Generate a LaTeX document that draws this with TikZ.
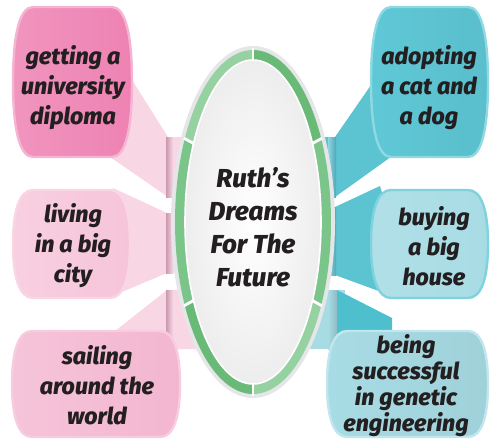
\documentclass[tikz,border=0pt]{standalone}
\usepackage{fontspec}
\setmainfont{Fira Sans}[BoldItalicFont={Fira Sans ExtraBold Italic}]
\usepackage{tikz}
\usepackage{xcolor}

\definecolor{ink}{HTML}{231F20}
\definecolor{rimgray}{HTML}{E4E6E8}
\definecolor{greenlight}{HTML}{96D1A1}
\definecolor{greenmid}{HTML}{7CC58A}
\definecolor{greendark}{HTML}{69B977}
\definecolor{pinkhot}{HTML}{EE82B3}
\definecolor{pinksoft}{HTML}{F6C4D9}
\definecolor{pinkmid}{HTML}{F3B6D0}
\definecolor{pinkbeam}{HTML}{F9D6E4}
\definecolor{pinkstrip}{HTML}{C99AAE}
\definecolor{cyandeep}{HTML}{5FC8D6}
\definecolor{cyansoft}{HTML}{A8DCE5}
\definecolor{cyanbeam}{HTML}{5CC4D1}
\definecolor{cyanstrip}{HTML}{4FA8B7}
\definecolor{cyandark}{HTML}{4EBFCD}

% rounded bubble: x0, y0, x1, y1, options
\newcommand\bubble[5]{%
  \path[#5] (#1+20,#2) -- (#3-20,#2)
    .. controls (#3-6,#2) and (#3,{#2+0.2*(#4-#2)}) .. (#3,{(#2+#4)/2})
    .. controls (#3,{#4-0.2*(#4-#2)}) and (#3-6,#4) .. (#3-20,#4) -- (#1+20,#4)
    .. controls (#1+6,#4) and (#1,{#4-0.2*(#4-#2)}) .. (#1,{(#2+#4)/2})
    .. controls (#1,{#2+0.2*(#4-#2)}) and (#1+6,#2) .. (#1+20,#2) -- cycle;}
% ring piece between two angles
\newcommand\ringpart[3]{%
  \fill[#3] plot[domain=#1:#2,samples=24] ({253+78*cos(\x)},{222+172*sin(\x)})
    -- plot[domain=#2:#1,samples=24] ({253+68*cos(\x)},{222+162*sin(\x)}) -- cycle;}

\begin{document}
\begin{tikzpicture}[x=0.5pt,y=-0.5pt,
  dream/.style={font=\fontsize{11.6}{15}\selectfont\bfseries\itshape,align=center,text=ink},
  title/.style={font=\fontsize{13}{16.5}\selectfont\bfseries\itshape,align=center,text=ink}]
\useasboundingbox (0,0) rectangle (490,438);

% beams, left
\fill[pinkbeam] (120,61) -- (168,137) -- (200,137) -- (200,197) -- (168,197) -- (100,150) -- cycle;
\fill[pinkbeam] (113,188) -- (167,213) -- (200,213) -- (200,273) -- (167,273) -- (110,297) -- (100,250) -- cycle;
\fill[pinkbeam] (110,335) -- (167,290) -- (200,290) -- (200,349) -- (150,349) -- cycle;
\shade[left color=pinkstrip,right color=pinkbeam] (166,137) rectangle (173,197);
\shade[left color=pinkstrip,right color=pinkbeam] (166,213) rectangle (173,273);
\shade[left color=pinkstrip,right color=pinkbeam] (166,290) rectangle (173,340);

% beams, right
\fill[cyanbeam] (380,72) -- (335,137) -- (300,137) -- (300,197) -- (335,197) -- (395,154) -- cycle;
\fill[cyanbeam] (380,186) -- (335,207) -- (300,207) -- (300,275) -- (335,275) -- (395,297) -- (400,250) -- cycle;
\fill[cyansoft] (300,290) rectangle (345,349);
\fill[cyandark] (337,290) -- (392,318) -- (392,340) -- (337,340) -- cycle;
\shade[left color=cyanbeam!70!white,right color=cyanstrip] (328,137) rectangle (336,197);
\shade[left color=cyanbeam!70!white,right color=cyanstrip] (328,207) rectangle (336,275);
\shade[left color=cyansoft,right color=cyansoft!85!black] (328,290) rectangle (337,349);

% oval
\fill[rimgray] (253,222) ellipse[x radius=82, y radius=176];
\ringpart{209}{270}{greenlight}
\ringpart{270}{331}{greendark}
\ringpart{151}{209}{greenmid}
\ringpart{-29}{29}{greenmid}
\ringpart{90}{151}{greendark}
\ringpart{29}{90}{greenlight}
\draw[white,line width=1.4] ({253+67*cos(29)},{222+161*sin(29)}) -- ({253+79*cos(29)},{222+173*sin(29)});
\draw[white,line width=1.4] ({253+67*cos(151)},{222+161*sin(151)}) -- ({253+79*cos(151)},{222+173*sin(151)});
\draw[white,line width=1.4] ({253+67*cos(209)},{222+161*sin(209)}) -- ({253+79*cos(209)},{222+173*sin(209)});
\draw[white,line width=1.4] ({253+67*cos(331)},{222+161*sin(331)}) -- ({253+79*cos(331)},{222+173*sin(331)});
\draw[white,line width=1.4] (253,48) -- (253,62);
\draw[white,line width=1.4] (253,382) -- (253,396);
\shade[inner color=white,outer color=gray!14] (253,222) ellipse[x radius=68, y radius=162];
\draw[white,line width=0.8] (253,222) ellipse[x radius=68, y radius=162];

% bubbles
\bubble{13}{7}{132}{157}{left color=pinkhot!85!white,right color=pinkhot,draw=pinkhot!60!white,line width=1.2}
\bubble{13}{190}{130}{298}{left color=pinksoft!80!white,right color=pinksoft,draw=pinksoft!70!white,line width=1.2}
\bubble{12}{331}{180}{437}{left color=pinkmid!80!white,right color=pinkmid,draw=pinkmid!70!white,line width=1.2}
\bubble{371}{7}{488}{157}{left color=cyandeep,right color=cyandeep!95!black,draw=cyandeep!70!white,line width=1.2}
\bubble{371}{190}{488}{298}{left color=cyansoft!90!white,right color=cyansoft,draw=cyandeep!80!white,line width=1.2}
\bubble{327}{331}{488}{437}{left color=cyansoft,right color=cyansoft!95!black,draw=cyansoft!70!white,line width=1.2}

% texts
\node[title] (ruth) at (253,227) {Ruth’s\\Dreams\\For The\\Future};
\node[dream] (diploma) at (73,88) {getting a\\university\\diploma};
\node[dream] (city) at (73,246) {living\\in a big\\city};
\node[dream] (sailing) at (97,385) {sailing\\around the\\world};
\node[dream] (pets) at (429,88) {adopting\\a cat and\\a dog};
\node[dream] (house) at (434,246) {buying\\a big\\house};
\node[dream,font=\fontsize{11.6}{13}\selectfont\bfseries\itshape] (genetic) at (406,386) {being\\successful\\in genetic\\engineering};
\end{tikzpicture}
\end{document}
